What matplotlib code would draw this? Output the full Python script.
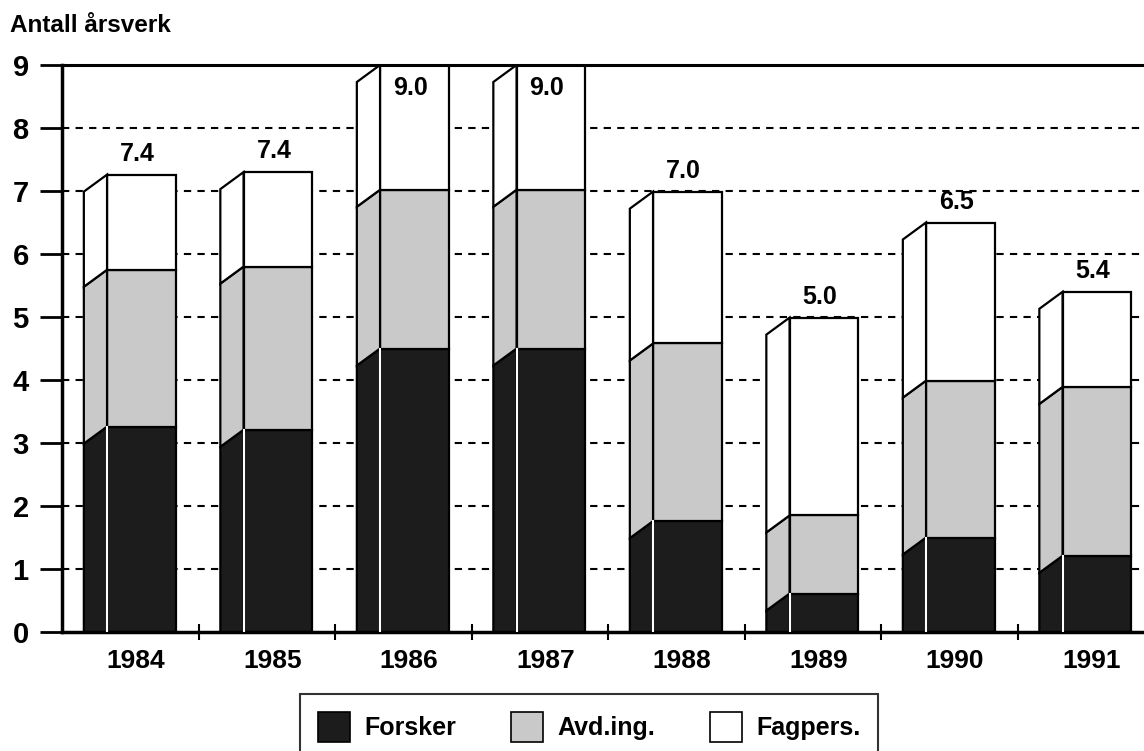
import numpy as np
import matplotlib.pyplot as plt
from matplotlib.patches import Polygon, Patch

plt.rcParams['font.family'] = ['Liberation Sans', 'DejaVu Sans']
plt.rcParams['font.weight'] = 'bold'

years = ["1984", "1985", "1986", "1987", "1988", "1989", "1990", "1991"]
forsker = [3.26, 3.21, 4.50, 4.50, 1.76, 0.61, 1.50, 1.21]
avd_ing = [2.49, 2.59, 2.52, 2.52, 2.82, 1.24, 2.49, 2.68]
fagpers = [1.51, 1.50, 1.98, 1.98, 2.41, 3.14, 2.51, 1.51]
totals = [7.4, 7.4, 9.0, 9.0, 7.0, 5.0, 6.5, 5.4]

series_names = ["Forsker", "Avd.ing.", "Fagpers."]
colors = ["#1c1c1c", "#c9c9c9", "#ffffff"]

# fake 3D look: side face to the left, dropped down a bit
side_w = 0.17
front_l = 0.17
front_w = 0.505
drop = 0.27
lw = 1.6

fig = plt.figure(figsize=(11.44, 7.51), dpi=100)
ax = fig.add_axes([62 / 1144, (751 - 632) / 751, (1154 - 62) / 1144, (632 - 65) / 751])

ax.set_xlim(0, len(years))
ax.set_ylim(0, 9)

for y in range(1, 9):
    ax.axhline(y, color="black", lw=1.5, ls=(0, (3.5, 3)), zorder=0)

for i, year in enumerate(years):
    c = i + 0.5
    xl = c - front_l - side_w
    xr = c - front_l
    bottom = 0.0
    for vals, col in zip([forsker, avd_ing, fagpers], colors):
        v = vals[i]
        top = bottom + v
        ax.bar(xr, v, width=front_w, bottom=bottom, align="edge",
               facecolor=col, edgecolor="black", lw=lw, zorder=2)
        poly = Polygon([(xl, bottom - drop), (xr, bottom), (xr, top), (xl, top - drop)],
                       closed=True, facecolor=col, edgecolor="black", lw=lw, zorder=2)
        ax.add_patch(poly)
        bottom = top
    # thin white seam between side and front of the dark part
    ax.plot([xr, xr], [0, forsker[i]], color="white", lw=1.5, zorder=3)

    tx = xr + front_w / 2 - 0.03
    if bottom >= 8.9:
        ax.text(tx, 8.83, f"{totals[i]:.1f}", ha="center", va="top",
                fontsize=18, fontweight="bold", zorder=4)
    else:
        ax.text(tx, bottom + 0.14, f"{totals[i]:.1f}", ha="center", va="bottom",
                fontsize=18, fontweight="bold", zorder=4)

for side in ["left", "bottom"]:
    ax.spines[side].set_linewidth(2.5)
ax.spines["top"].set_linewidth(2.2)
ax.spines["right"].set_visible(False)

ax.set_yticks(range(0, 10))
ax.set_yticklabels([str(v) for v in range(0, 10)], fontsize=21, fontweight="bold")
ax.tick_params(axis="y", direction="out", length=16, width=2, pad=8)

ax.set_xticks(np.arange(1, len(years)))
ax.set_xticklabels([])
ax.tick_params(axis="x", which="major", direction="inout", length=12, width=1.5)
ax.set_xticks(np.arange(len(years)) + 0.54, minor=True)
ax.set_xticklabels(years, minor=True, fontsize=19, fontweight="bold")
ax.tick_params(axis="x", which="minor", length=0, pad=12)

fig.text(10 / 1144, 1 - 26 / 751, "Antall årsverk", fontsize=17.5, fontweight="bold",
         va="center", ha="left")

handles = [Patch(facecolor=c, edgecolor="black", lw=1.2) for c in colors]
leg = fig.legend(handles, series_names, loc="upper center",
                 bbox_to_anchor=(589 / 1144, 1 - 694 / 751), ncol=3,
                 prop={"size": 18, "weight": "bold"}, frameon=True, fancybox=False,
                 handlelength=1.3, handleheight=1.5, handletextpad=0.55,
                 columnspacing=2.2, borderpad=0.7, borderaxespad=0)
leg.get_frame().set_edgecolor("black")
leg.get_frame().set_linewidth(1.5)

fig.savefig("out.png", dpi=100)
